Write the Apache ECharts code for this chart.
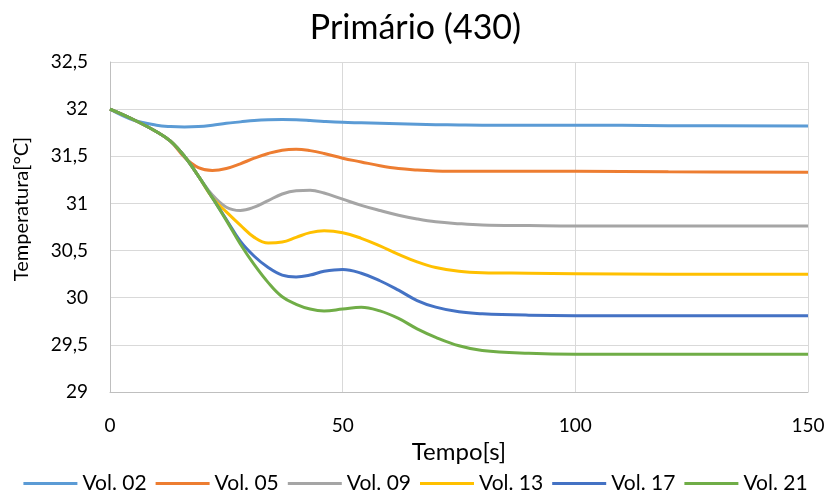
<!DOCTYPE html>
<html>
<head>
<meta charset="utf-8">
<script src="https://cdn.jsdelivr.net/npm/echarts@6/dist/echarts.min.js"></script>
<style>
  html, body { margin: 0; padding: 0; background: #fff; }
  #chart { width: 831px; height: 498px; }
</style>
</head>
<body>
<div id="chart"></div>
<script>
// tempo [s]
var tempo = [0, 5, 10, 13, 16, 19, 22, 25, 28, 31, 34, 37, 40, 43, 46, 50, 54, 58, 62, 66, 70, 75, 80, 90, 100, 120, 150];

var vol02 = [32.0, 31.885, 31.83, 31.815, 31.81, 31.815, 31.83, 31.85, 31.865, 31.88, 31.888, 31.89, 31.888, 31.88, 31.87, 31.86, 31.855, 31.85, 31.845, 31.84, 31.835, 31.832, 31.83, 31.83, 31.83, 31.825, 31.82];
var vol05 = [32.0, 31.89, 31.76, 31.66, 31.49, 31.38, 31.35, 31.37, 31.42, 31.48, 31.53, 31.565, 31.575, 31.56, 31.53, 31.48, 31.44, 31.40, 31.37, 31.355, 31.345, 31.34, 31.34, 31.34, 31.34, 31.335, 31.33];
var vol09 = [32.0, 31.89, 31.76, 31.66, 31.50, 31.29, 31.09, 30.96, 30.925, 30.96, 31.03, 31.10, 31.135, 31.14, 31.11, 31.045, 30.98, 30.925, 30.875, 30.835, 30.805, 30.785, 30.772, 30.765, 30.76, 30.76, 30.76];
var vol13 = [32.0, 31.89, 31.76, 31.66, 31.50, 31.29, 31.06, 30.91, 30.77, 30.64, 30.58, 30.59, 30.64, 30.69, 30.71, 30.69, 30.63, 30.55, 30.46, 30.38, 30.32, 30.28, 30.265, 30.26, 30.255, 30.25, 30.25];
var vol17 = [32.0, 31.89, 31.76, 31.66, 31.50, 31.29, 31.06, 30.83, 30.60, 30.44, 30.32, 30.24, 30.22, 30.24, 30.28, 30.30, 30.26, 30.18, 30.08, 29.97, 29.90, 29.85, 29.83, 29.815, 29.81, 29.81, 29.81];
var vol21 = [32.0, 31.89, 31.76, 31.66, 31.50, 31.29, 31.06, 30.82, 30.57, 30.35, 30.16, 30.01, 29.93, 29.88, 29.86, 29.88, 29.90, 29.86, 29.78, 29.67, 29.58, 29.49, 29.44, 29.41, 29.40, 29.40, 29.40];

var nomes = ['Vol. 02', 'Vol. 05', 'Vol. 09', 'Vol. 13', 'Vol. 17', 'Vol. 21'];
var valores = [vol02, vol05, vol09, vol13, vol17, vol21];
var cores = ['#5B9BD5', '#ED7D31', '#A5A5A5', '#FFC000', '#4472C4', '#70AD47'];

var fonte = 'Lato, "Noto Sans", sans-serif';

function pares(vals) {
    var res = [];
    for (var i = 0; i < tempo.length; i++) {
        res.push([tempo[i], vals[i]]);
    }
    return res;
}

var series = [];
for (var i = 0; i < nomes.length; i++) {
    series.push({
        name: nomes[i],
        type: 'line',
        smooth: 0.4,
        showSymbol: false,
        symbol: 'none',
        lineStyle: { width: 3, color: cores[i] },
        itemStyle: { color: cores[i] },
        data: pares(valores[i])
    });
}

var chart = echarts.init(document.getElementById('chart'));
chart.setOption({
    animation: false,
    backgroundColor: '#fff',
    title: {
        text: 'Primário (430)',
        left: 'center',
        top: 6,
        textStyle: { fontFamily: fonte, fontSize: 34, fontWeight: 'normal', color: '#000' }
    },
    grid: { left: 110, right: 23, top: 62, bottom: 106 },
    legend: {
        bottom: -1,
        left: 'center',
        itemWidth: 54,
        itemHeight: 3,
        itemGap: 9,
        icon: 'rect',
        textStyle: { fontFamily: fonte, fontSize: 21, color: '#000' },
        data: nomes
    },
    xAxis: {
        type: 'value',
        min: 0,
        max: 150,
        interval: 50,
        name: 'Tempo[s]',
        nameLocation: 'middle',
        nameGap: 46,
        nameTextStyle: { fontFamily: fonte, fontSize: 24, color: '#000' },
        axisLine: { show: true, lineStyle: { color: '#bfbfbf', width: 1 } },
        axisTick: { show: false },
        axisLabel: { fontFamily: fonte, fontSize: 19, color: '#000', margin: 24 },
        splitLine: { show: true, lineStyle: { color: '#d9d9d9', width: 1 } }
    },
    yAxis: {
        type: 'value',
        min: 29,
        max: 32.5,
        interval: 0.5,
        name: 'Temperatura[°C]',
        nameLocation: 'middle',
        nameGap: 78,
        nameRotate: 90,
        nameTextStyle: { fontFamily: fonte, fontSize: 20, color: '#000', padding: [0, 0, 0, 36] },
        axisLine: { show: true, lineStyle: { color: '#bfbfbf', width: 1 } },
        axisTick: { show: false },
        axisLabel: {
            fontFamily: fonte,
            fontSize: 19,
            color: '#000',
            margin: 22,
            formatter: function(v) { return String(v).replace('.', ','); }
        },
        splitLine: { show: true, lineStyle: { color: '#d9d9d9', width: 1 } }
    },
    series: series
});
</script>
</body>
</html>
